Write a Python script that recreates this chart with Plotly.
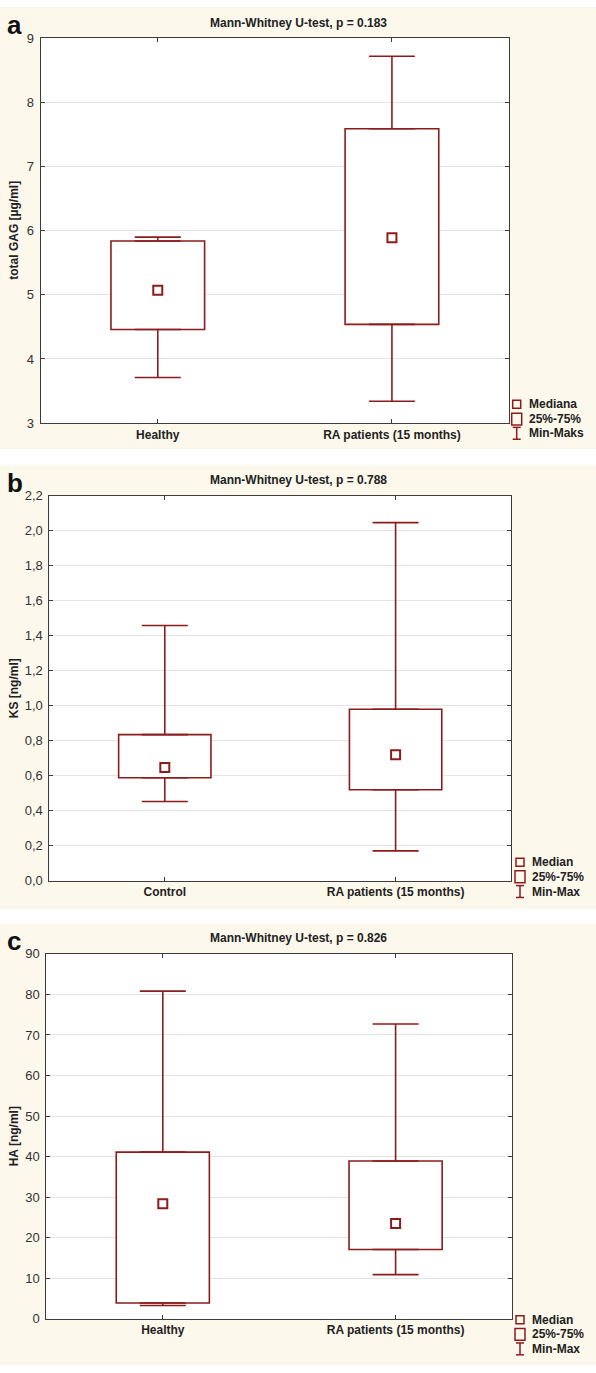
import plotly.graph_objects as go

W, H = 596, 1373

# ---------------- data ----------------
# panel a: total GAG [µg/ml]
cats_a = ["Healthy", "RA patients (15 months)"]
gag_min = [3.71, 3.34]
gag_q1 = [4.46, 4.54]
gag_med = [5.07, 5.89]
gag_q3 = [5.84, 7.59]
gag_max = [5.90, 8.72]
ticks_a = [3, 4, 5, 6, 7, 8, 9]
ticktext_a = ["3", "4", "5", "6", "7", "8", "9"]

# panel b: KS [ng/ml]
cats_b = ["Control", "RA patients (15 months)"]
ks_min = [0.453, 0.17]
ks_q1 = [0.588, 0.52]
ks_med = [0.647, 0.72]
ks_q3 = [0.835, 0.98]
ks_max = [1.459, 2.047]
ticks_b = [0.0, 0.2, 0.4, 0.6, 0.8, 1.0, 1.2, 1.4, 1.6, 1.8, 2.0, 2.2]
ticktext_b = ["0,0", "0,2", "0,4", "0,6", "0,8", "1,0", "1,2", "1,4", "1,6", "1,8", "2,0", "2,2"]

# panel c: HA [ng/ml]
cats_c = ["Healthy", "RA patients (15 months)"]
ha_min = [3.3, 10.9]
ha_q1 = [3.9, 17.1]
ha_med = [28.4, 23.5]
ha_q3 = [41.1, 38.9]
ha_max = [80.8, 72.7]
ticks_c = [0, 10, 20, 30, 40, 50, 60, 70, 80, 90]
ticktext_c = ["0", "10", "20", "30", "40", "50", "60", "70", "80", "90"]

titles = ["Mann-Whitney U-test, p = 0.183", "Mann-Whitney U-test, p = 0.788", "Mann-Whitney U-test, p = 0.826"]
ytitles = ["total GAG [µg/ml]", "KS [ng/ml]", "HA [ng/ml]"]
letters = ["a", "b", "c"]
legend_a = ["Mediana", "25%-75%", "Min-Maks"]
legend_bc = ["Median", "25%-75%", "Min-Max"]

# ---------------- style ----------------
RED = "#8b1c1c"
CREAM = "#fcf8ec"
AXC = "#3c3c3c"
GRID = "#e4e4e4"
FONT = "Liberation Sans"


def px(x):
    return x / W


def py(y):
    return 1 - y / H


# plot-area pixel boxes (left, right, top, bottom)
boxes = [
    (40.7, 509.0, 31.7, 420.7),
    (49.4, 511.0, 494.3, 883.3),
    (46.4, 512.0, 957.3, 1326.3),
]
panels = [
    (cats_a, gag_min, gag_q1, gag_med, gag_q3, gag_max, ticks_a, ticktext_a, [3, 9]),
    (cats_b, ks_min, ks_q1, ks_med, ks_q3, ks_max, ticks_b, ticktext_b, [0, 2.2]),
    (cats_c, ha_min, ha_q1, ha_med, ha_q3, ha_max, ticks_c, ticktext_c, [0, 90]),
]
cream_bands = [(0, 447), (463, 912), (927, 1373)]
legend_pos = [
    (516.7, 526.7, [401.7, 416.7, 431.0], legend_a),
    (520.0, 529.7, [864.7, 879.3, 894.3], legend_bc),
    (520.0, 529.7, [1327.3, 1342.0, 1356.7], legend_bc),
]

fig = go.Figure()
shapes = []
annotations = []

for (y0, y1) in cream_bands:
    shapes.append(dict(type="rect", xref="paper", yref="paper", x0=0, x1=1,
                       y0=py(y1), y1=py(y0), fillcolor=CREAM, line=dict(width=0), layer="below"))

for i, (panel, box) in enumerate(zip(panels, boxes)):
    cats, vmin, q1, med, q3, vmax, tv, tt, yr = panel
    l, r, t, b = box
    xa = "x" if i == 0 else f"x{i+1}"
    ya = "y" if i == 0 else f"y{i+1}"

    shapes.append(dict(type="rect", xref="paper", yref="paper", x0=px(l), x1=px(r),
                       y0=py(b), y1=py(t), fillcolor="white", line=dict(width=0), layer="below"))

    # box 25%-75%
    fig.add_trace(go.Bar(
        x=cats, y=[a - c for a, c in zip(q3, q1)], base=q1, width=0.4,
        marker=dict(color="white", line=dict(color=RED, width=1.6)),
        xaxis=xa, yaxis=ya, showlegend=False, hoverinfo="skip"))
    # upper whisker
    fig.add_trace(go.Scatter(
        x=cats, y=q3, mode="markers", marker=dict(size=1, opacity=0),
        error_y=dict(type="data", symmetric=False,
                     array=[a - c for a, c in zip(vmax, q3)], arrayminus=[0, 0],
                     color=RED, thickness=1.6, width=23),
        xaxis=xa, yaxis=ya, showlegend=False, hoverinfo="skip"))
    # lower whisker
    fig.add_trace(go.Scatter(
        x=cats, y=q1, mode="markers", marker=dict(size=1, opacity=0),
        error_y=dict(type="data", symmetric=False,
                     array=[0, 0], arrayminus=[a - c for a, c in zip(q1, vmin)],
                     color=RED, thickness=1.6, width=23),
        xaxis=xa, yaxis=ya, showlegend=False, hoverinfo="skip"))
    # median
    fig.add_trace(go.Scatter(
        x=cats, y=med, mode="markers",
        marker=dict(symbol="square-open", size=9, color=RED, line=dict(width=2, color=RED)),
        xaxis=xa, yaxis=ya, showlegend=False, hoverinfo="skip"))

    xkey = "xaxis" if i == 0 else f"xaxis{i+1}"
    ykey = "yaxis" if i == 0 else f"yaxis{i+1}"
    fig.update_layout(**{
        xkey: dict(domain=[px(l), px(r)], anchor=ya, type="category", range=[-0.5, 1.5],
                   showline=True, linecolor=AXC, linewidth=1, mirror="ticks",
                   ticks="inside", ticklen=4, tickcolor=AXC, showgrid=False,
                   tickfont=dict(family=FONT, size=12, color="#222", weight="bold"),
                   fixedrange=True),
        ykey: dict(domain=[py(b), py(t)], anchor=xa, range=yr, tickvals=tv, ticktext=tt,
                   showline=True, linecolor=AXC, linewidth=1, mirror="ticks",
                   ticks="inside", ticklen=4, tickcolor=AXC,
                   showgrid=True, gridcolor=GRID, gridwidth=1, zeroline=False,
                   tickfont=dict(family=FONT, size=13, color="#333"),
                   ticklabelstandoff=3, fixedrange=True),
    })

    # title
    annotations.append(dict(text=titles[i], xref="paper", yref="paper", x=0.5, y=py(t - 16),
                            xanchor="center", yanchor="middle", showarrow=False,
                            font=dict(family=FONT, size=12, color="#222", weight="bold")))
    # panel letter
    annotations.append(dict(text=letters[i], xref="paper", yref="paper", x=px(5), y=py(t - 13),
                            xanchor="left", yanchor="middle", showarrow=False,
                            font=dict(family=FONT, size=26, color="#111", weight="bold")))
    # y title
    annotations.append(dict(text=ytitles[i], xref="paper", yref="paper", x=px(14),
                            y=py((t + b) / 2), xanchor="center", yanchor="middle",
                            textangle=-90, showarrow=False,
                            font=dict(family=FONT, size=12, color="#222", weight="bold")))

    # legend
    cx, tx, rows, labels = legend_pos[i]
    shapes.append(dict(type="rect", xref="paper", yref="paper", x0=px(cx - 4), x1=px(cx + 4),
                       y0=py(rows[0] + 4), y1=py(rows[0] - 4), line=dict(color=RED, width=1.5),
                       fillcolor="rgba(0,0,0,0)"))
    shapes.append(dict(type="rect", xref="paper", yref="paper", x0=px(cx - 5), x1=px(cx + 5),
                       y0=py(rows[1] + 6), y1=py(rows[1] - 6), line=dict(color=RED, width=1.5),
                       fillcolor="rgba(0,0,0,0)"))
    shapes.append(dict(type="line", xref="paper", yref="paper", x0=px(cx), x1=px(cx),
                       y0=py(rows[2] + 6), y1=py(rows[2] - 6), line=dict(color=RED, width=1.5)))
    for dy in (-6, 6):
        shapes.append(dict(type="line", xref="paper", yref="paper", x0=px(cx - 4), x1=px(cx + 4),
                           y0=py(rows[2] + dy), y1=py(rows[2] + dy), line=dict(color=RED, width=1.5)))
    for ry, lab in zip(rows, labels):
        annotations.append(dict(text=lab, xref="paper", yref="paper", x=px(tx), y=py(ry),
                                xanchor="left", yanchor="middle", showarrow=False,
                                font=dict(family=FONT, size=12, color="#222", weight="bold")))

fig.update_layout(
    width=W, height=H, margin=dict(l=0, r=0, t=0, b=0),
    paper_bgcolor="white", plot_bgcolor="white",
    showlegend=False, barmode="overlay",
    shapes=shapes, annotations=annotations,
    font=dict(family=FONT),
)

fig.write_html(
    "out.html",
    config={"displayModeBar": False},
    post_script="document.body.style.margin='0';document.body.style.overflow='hidden';",
)
